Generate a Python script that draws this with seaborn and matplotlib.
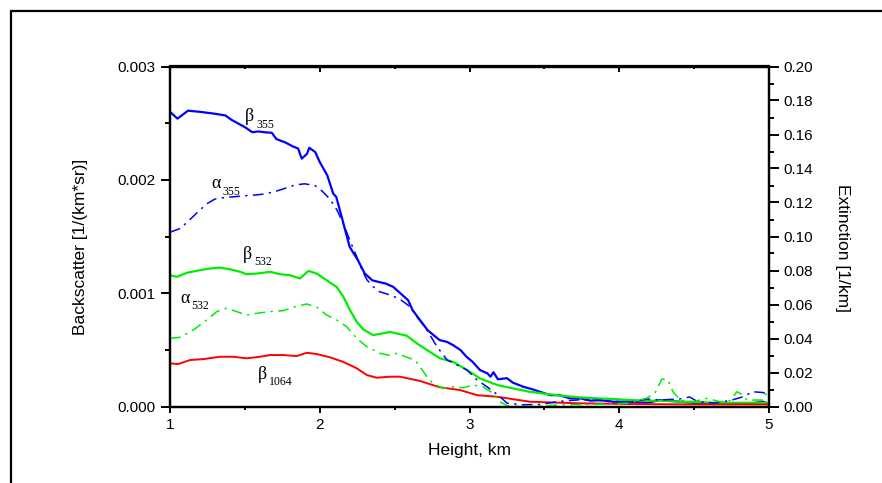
import matplotlib
matplotlib.use("Agg")
import numpy as np
import matplotlib.pyplot as plt
import seaborn as sns
from matplotlib.ticker import MultipleLocator, FormatStrFormatter
from matplotlib.patches import Rectangle

# ---------------- data ----------------
# beta 355 (backscatter, units 1e-3 1/(km*sr))
h_b355 = [1.00, 1.05, 1.12, 1.20, 1.30, 1.37, 1.41, 1.50, 1.55, 1.59,
          1.63, 1.68, 1.71, 1.77, 1.82, 1.855, 1.88, 1.915, 1.93, 1.97,
          2.00, 2.05, 2.09, 2.11, 2.14, 2.17, 2.20, 2.255, 2.30, 2.35,
          2.39, 2.44, 2.49, 2.54, 2.59, 2.62, 2.67, 2.72, 2.76, 2.80,
          2.85, 2.89, 2.94, 2.98, 3.02, 3.07, 3.12, 3.14, 3.16, 3.19,
          3.25, 3.29, 3.36, 3.42, 3.47, 3.54, 3.60, 3.67, 3.74, 3.81,
          3.87, 3.96, 4.07, 4.19, 4.27, 4.41, 4.52, 4.63, 4.74, 4.85,
          4.96, 5.00]
b355_e3 = [2.600, 2.540, 2.610, 2.600, 2.583, 2.568, 2.530, 2.465, 2.420, 2.427,
           2.420, 2.415, 2.360, 2.330, 2.295, 2.277, 2.187, 2.230, 2.283, 2.245,
           2.157, 2.040, 1.878, 1.850, 1.705, 1.555, 1.408, 1.290, 1.174, 1.114,
           1.100, 1.085, 1.056, 0.997, 0.938, 0.850, 0.762, 0.674, 0.630, 0.586,
           0.570, 0.542, 0.498, 0.439, 0.395, 0.322, 0.292, 0.263, 0.302, 0.240,
           0.250, 0.210, 0.174, 0.152, 0.130, 0.100, 0.100, 0.072, 0.072, 0.051,
           0.057, 0.042, 0.042, 0.033, 0.057, 0.042, 0.030, 0.022, 0.028, 0.022,
           0.042, 0.022]

# alpha 355 (extinction, 1/km)
h_a355 = [1.00, 1.07, 1.13, 1.20, 1.25, 1.30, 1.37, 1.43, 1.50, 1.57,
          1.63, 1.70, 1.77, 1.835, 1.90, 1.97, 2.015, 2.068, 2.115, 2.155,
          2.20, 2.247, 2.282, 2.316, 2.356, 2.40, 2.47, 2.536, 2.603, 2.649,
          2.716, 2.783, 2.85, 2.917, 2.983, 3.05, 3.117, 3.204, 3.25, 3.35,
          3.47, 3.60, 3.74, 3.87, 3.96, 4.07, 4.19, 4.27, 4.40, 4.47,
          4.52, 4.63, 4.74, 4.83, 4.89, 4.96, 5.00]
a355 = [0.1025, 0.1048, 0.1097, 0.1156, 0.1195, 0.1220, 0.1230, 0.1234, 0.1240, 0.1244,
        0.1250, 0.1264, 0.1284, 0.1303, 0.1310, 0.1299, 0.1268, 0.1220, 0.1156, 0.1080,
        0.0980, 0.0881, 0.0803, 0.0744, 0.0705, 0.0675, 0.0656, 0.0631, 0.0587, 0.0528,
        0.0450, 0.0352, 0.0274, 0.0244, 0.0215, 0.0156, 0.0116, 0.0058, 0.0020, 0.0010,
        0.0012, 0.0030, 0.0040, 0.0035, 0.0030, 0.0025, 0.0044, 0.0038, 0.0044, 0.0056,
        0.0030, 0.0020, 0.0035, 0.0058, 0.0087, 0.0082, 0.0068]

# beta 532 (units 1e-3 1/(km*sr))
h_b532 = [1.00, 1.045, 1.11, 1.20, 1.27, 1.33, 1.40, 1.47, 1.51, 1.58,
          1.67, 1.735, 1.80, 1.868, 1.924, 1.98, 2.046, 2.113, 2.158, 2.202,
          2.247, 2.291, 2.356, 2.44, 2.47, 2.51, 2.58, 2.649, 2.716, 2.803,
          2.89, 2.983, 3.07, 3.157, 3.184, 3.29, 3.40, 3.52, 3.62, 3.74,
          3.85, 3.96, 4.07, 4.19, 4.29, 4.41, 4.52, 4.63, 4.85, 5.00]
b532_e3 = [1.159, 1.144, 1.179, 1.203, 1.218, 1.226, 1.211, 1.188, 1.167, 1.173,
           1.188, 1.167, 1.159, 1.130, 1.196, 1.173, 1.114, 1.055, 0.967, 0.850,
           0.747, 0.680, 0.630, 0.650, 0.659, 0.645, 0.625, 0.557, 0.498, 0.425,
           0.395, 0.322, 0.248, 0.204, 0.190, 0.160, 0.130, 0.110, 0.095, 0.080,
           0.072, 0.066, 0.057, 0.051, 0.051, 0.042, 0.040, 0.033, 0.033, 0.033]

# alpha 532 (1/km)
h_a532 = [1.00, 1.067, 1.156, 1.245, 1.312, 1.379, 1.445, 1.512, 1.579, 1.668,
          1.757, 1.823, 1.913, 1.98, 2.046, 2.113, 2.18, 2.247, 2.314, 2.402,
          2.47, 2.514, 2.581, 2.636, 2.669, 2.716, 2.756, 2.823, 2.890, 2.957,
          3.023, 3.090, 3.157, 3.204, 3.25, 3.35, 3.50, 3.65, 3.80, 3.95,
          4.07, 4.185, 4.239, 4.285, 4.325, 4.359, 4.406, 4.493, 4.586, 4.673,
          4.74, 4.786, 4.826, 4.853, 4.96, 5.00]
a532 = [0.0401, 0.0407, 0.0450, 0.0509, 0.0558, 0.0578, 0.0558, 0.0538, 0.0548, 0.0558,
        0.0564, 0.0584, 0.0603, 0.0584, 0.0538, 0.0509, 0.0469, 0.0401, 0.0352, 0.0313,
        0.0300, 0.0313, 0.0290, 0.0274, 0.0234, 0.0175, 0.0136, 0.0107, 0.0116, 0.0110,
        0.0126, 0.0116, 0.0078, 0.0028, 0.0005, 0.0000, 0.0005, 0.0010, 0.0012, 0.0015,
        0.0020, 0.0050, 0.0080, 0.0162, 0.0156, 0.0087, 0.0038, 0.0028, 0.0048, 0.0028,
        0.0035, 0.0087, 0.0068, 0.0038, 0.0038, 0.0107]

# beta 1064 (units 1e-3 1/(km*sr))
h_b1064 = [1.00, 1.053, 1.134, 1.222, 1.334, 1.423, 1.512, 1.601, 1.668, 1.757,
           1.846, 1.913, 1.98, 2.068, 2.155, 2.247, 2.314, 2.38, 2.47, 2.536,
           2.59, 2.67, 2.80, 2.937, 3.05, 3.184, 3.404, 3.738, 4.07, 4.50, 5.00]
b1064_e3 = [0.381, 0.374, 0.410, 0.418, 0.439, 0.439, 0.425, 0.439, 0.454, 0.454,
            0.445, 0.474, 0.463, 0.434, 0.395, 0.337, 0.278, 0.254, 0.263, 0.263,
            0.248, 0.225, 0.170, 0.145, 0.100, 0.086, 0.042, 0.028, 0.022, 0.018, 0.018]

x_ticks = [1, 2, 3, 4, 5]
label_symbols = ["β", "α", "β", "α", "β"]
label_subs = ["355", "355", "532", "532", "1064"]

# ---------------- style ----------------
sns.set_style("ticks")
plt.rcParams["font.family"] = ["Liberation Sans", "DejaVu Sans"]
plt.rcParams["axes.edgecolor"] = "black"
plt.rcParams["axes.labelcolor"] = "black"
plt.rcParams["text.color"] = "black"
plt.rcParams["xtick.color"] = "black"
plt.rcParams["ytick.color"] = "black"
plt.rcParams["xtick.labelcolor"] = "black"
plt.rcParams["ytick.labelcolor"] = "black"

BLUE, GREEN, RED = "#0000ff", "#00ee00", "#ff0000"
DASHDOT = (0, (7, 3.5, 1.5, 3.5))
SERIF = ["Liberation Serif", "DejaVu Serif"]

fig = plt.figure(figsize=(8.82, 4.83), dpi=100)
fig.patch.set_facecolor("white")
ax = fig.add_axes([170 / 882, 76.5 / 483, 599 / 882, 340 / 483])
ax2 = ax.twinx()

# ---------------- curves ----------------
sns.lineplot(x=h_b355, y=np.array(b355_e3) * 1e-3, ax=ax, color=BLUE, lw=1.6, estimator=None)
sns.lineplot(x=h_b532, y=np.array(b532_e3) * 1e-3, ax=ax, color=GREEN, lw=1.6, estimator=None)
sns.lineplot(x=h_b1064, y=np.array(b1064_e3) * 1e-3, ax=ax, color=RED, lw=1.4, estimator=None)
sns.lineplot(x=h_a355, y=a355, ax=ax2, color=BLUE, lw=1.1, linestyle=DASHDOT, estimator=None)
sns.lineplot(x=h_a532, y=a532, ax=ax2, color=GREEN, lw=1.1, linestyle=DASHDOT, estimator=None)

# ---------------- curve labels ----------------
label_pos = [(1.501, 0.002515), (1.274, 0.001925), (1.487, 0.00130),
             (1.067, 0.000912), (1.588, 0.000242)]
for sym, sub, (lx, ly) in zip(label_symbols, label_subs, label_pos):
    ax.text(lx, ly, sym, fontsize=13, family=SERIF, ha="left", va="baseline")
    ax.annotate(sub, xy=(lx, ly), xytext=(8, -4.5), textcoords="offset points",
                fontsize=8.5, family=SERIF, ha="left", va="baseline")

# ---------------- axes ----------------
ax.set_xlim(1, 5)
ax.set_ylim(0, 0.003)
ax2.set_ylim(0, 0.20)
ax.set_xticks(x_ticks)
ax.xaxis.set_minor_locator(MultipleLocator(0.5))
ax.yaxis.set_major_locator(MultipleLocator(0.001))
ax.yaxis.set_minor_locator(MultipleLocator(0.0005))
ax.yaxis.set_major_formatter(FormatStrFormatter("%.3f"))
ax2.yaxis.set_major_locator(MultipleLocator(0.02))
ax2.yaxis.set_minor_locator(MultipleLocator(0.01))
ax2.yaxis.set_major_formatter(FormatStrFormatter("%.2f"))

ax.tick_params(axis="y", which="major", direction="out", length=6.5, width=1.4,
               labelsize=11, pad=4, left=True, right=False)
ax.tick_params(axis="y", which="minor", direction="out", length=3.3, width=1.4,
               left=True, right=False)
ax.tick_params(axis="x", which="major", direction="out", length=4.5, width=1.4,
               labelsize=11, pad=4, top=False)
ax.tick_params(axis="x", which="minor", direction="out", length=2.5, width=1.4, top=False)
ax2.tick_params(axis="y", which="major", direction="out", length=7, width=1.4,
                labelsize=11, pad=3.5)
ax2.tick_params(axis="y", which="minor", direction="out", length=3.5, width=1.4)

secax = ax.secondary_xaxis("top")
secax.set_xticks(x_ticks)
secax.xaxis.set_minor_locator(MultipleLocator(0.5))
secax.tick_params(axis="x", which="major", direction="in", length=4, width=1.4, labeltop=False)
secax.tick_params(axis="x", which="minor", direction="in", length=2.5, width=1.4)

for a in (ax, ax2):
    for s in a.spines.values():
        s.set_visible(True)
        s.set_linewidth(1.6)
        s.set_color("black")
secax.spines["top"].set_linewidth(1.6)

ax.set_xlabel("Height, km", fontsize=12.5, va="center", color="black")
ax.xaxis.set_label_coords(0.5, -0.128)
ax.set_ylabel("Backscatter [1/(km*sr)]", fontsize=12.5, va="center", color="black")
ax.yaxis.set_label_coords(-0.1486, 0.469)
ax2.set_ylabel("Extinction [1/km]", fontsize=12.5, rotation=270, va="center", color="black")
ax2.yaxis.set_label_coords(1.122, 0.465)

# outer frame (left and top edges visible, as in the reference)
fig.add_artist(Rectangle((11 / 882, -0.1), 1.2, (1 - 11 / 483) + 0.1,
                         transform=fig.transFigure, fill=False, lw=1.6, ec="black"))

fig.savefig("out.png", dpi=100, facecolor="white")
